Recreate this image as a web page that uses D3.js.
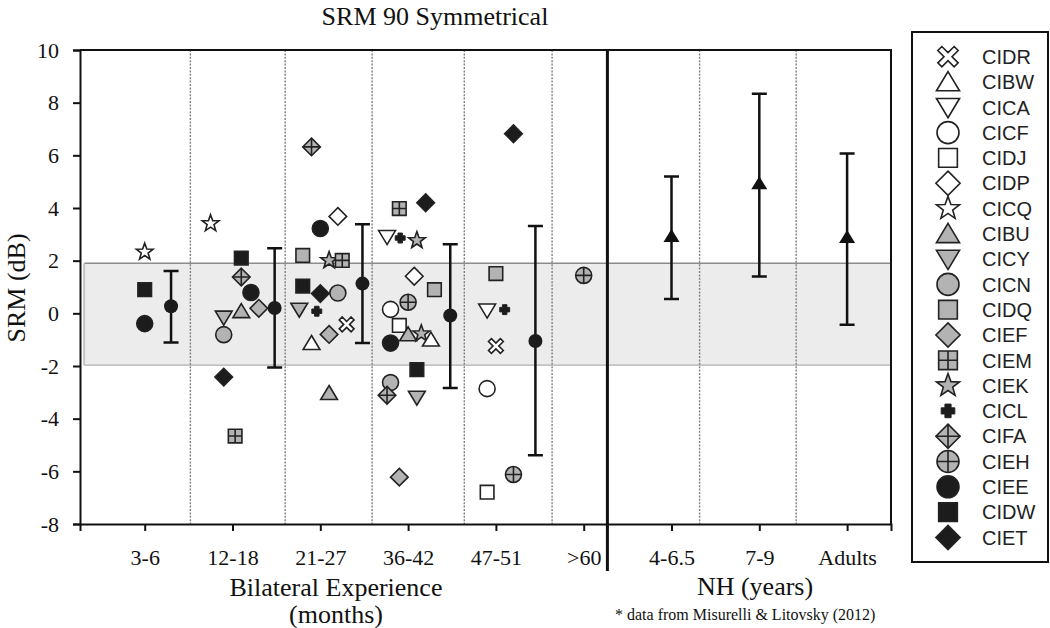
<!DOCTYPE html>
<html lang="en">
<head>
<meta charset="UTF-8">
<title>SRM 90 Symmetrical</title>
<script src="https://d3js.org/d3.v7.min.js"></script>
<style>
  body { margin: 0; background: #fff; }
  svg { display: block; }
  .serif { font-family: "Liberation Serif", "Times New Roman", serif; fill: #111; }
  .axis text { font-family: "Liberation Serif", "Times New Roman", serif; font-size: 22px; fill: #111; }
  .axis line { stroke: #111; stroke-width: 2; }
  .legend text { font-family: "Liberation Sans", Arial, sans-serif; font-size: 20px; fill: #222; }
</style>
</head>
<body>
<svg width="1050" height="628"></svg>
<script>
const groups = ["3-6", "12-18", "21-27", "36-42", "47-51", ">60", "4-6.5", "7-9", "Adults"];
const yTicks = [-8, -6, -4, -2, 0, 2, 4, 6, 8, 10];
const subjects = ["CIDR", "CIBW", "CICA", "CICF", "CIDJ", "CIDP", "CICQ", "CIBU", "CICY", "CICN",
                  "CIDQ", "CIEF", "CIEM", "CIEK", "CICL", "CIFA", "CIEH", "CIEE", "CIDW", "CIET"];

// each child: [subject, x in group units, SRM (dB)]
const ciPoints = [
  ["CICQ", 1.00, 2.33], ["CIDW", 1.00, 0.90], ["CIEE", 1.00, -0.39],

  ["CICQ", 1.75, 3.41], ["CIDW", 2.10, 2.10], ["CIFA", 2.10, 1.38], ["CIEE", 2.21, 0.79],
  ["CIEF", 2.30, 0.19], ["CIBU", 2.10, 0.08], ["CICY", 1.90, -0.16], ["CICN", 1.90, -0.81],
  ["CIET", 1.90, -2.42], ["CIEM", 2.03, -4.66],

  ["CIFA", 2.90, 6.32], ["CIDP", 3.20, 3.68], ["CIEE", 3.00, 3.22], ["CIDQ", 2.80, 2.20],
  ["CIEK", 3.10, 2.01], ["CIEM", 3.25, 2.01], ["CIDW", 2.80, 1.03], ["CIET", 3.00, 0.75],
  ["CICN", 3.20, 0.77], ["CICY", 2.76, 0.14], ["CICL", 2.96, 0.08], ["CIDR", 3.30, -0.42],
  ["CIEF", 3.10, -0.80], ["CIBW", 2.90, -1.13], ["CIBU", 3.10, -3.03],

  ["CIEM", 3.90, 3.98], ["CIET", 4.20, 4.20], ["CICA", 3.76, 2.90], ["CICL", 3.91, 2.86],
  ["CIEK", 4.10, 2.77], ["CIDP", 4.07, 1.41], ["CIDQ", 4.30, 0.90], ["CIEH", 4.00, 0.42],
  ["CICF", 3.80, 0.15], ["CIDJ", 3.90, -0.46], ["CIBU", 4.00, -0.80], ["CIEK", 4.15, -0.77],
  ["CIBW", 4.26, -1.00], ["CIEE", 3.80, -1.13], ["CIDW", 4.10, -2.14], ["CICN", 3.80, -2.63],
  ["CIFA", 3.76, -3.11], ["CICY", 4.10, -3.20], ["CIEF", 3.90, -6.22],

  ["CIET", 5.20, 6.82], ["CIDQ", 5.00, 1.51], ["CICA", 4.90, 0.11], ["CICL", 5.10, 0.14],
  ["CIDR", 5.00, -1.24], ["CICF", 4.90, -2.86], ["CIEH", 5.20, -6.12], ["CIDJ", 4.90, -6.79],

  ["CIEH", 6.00, 1.44]
];

// group summaries: [x, mean, upper, lower]
const ciSummary = [
  [1.30, 0.27, 1.61, -1.11],
  [2.48, 0.20, 2.47, -2.06],
  [3.48, 1.13, 3.38, -1.13],
  [4.48, -0.08, 2.62, -2.84],
  [5.45, -1.05, 3.32, -5.39]
];
const nhSummary = [
  [7.0, 2.90, 5.20, 0.54],
  [8.0, 4.90, 8.34, 1.40],
  [9.0, 2.86, 6.07, -0.43]
];

const normalBand = [-1.97, 1.90];
const dividers = [1.52, 2.60, 3.59, 4.64, 5.64, 7.32, 8.42];
const splitAt = 6.27;

// marker look per subject
const shapeOf = {
  CIDR: "x", CIBW: "up", CICA: "down", CICF: "circle", CIDJ: "square", CIDP: "diamond",
  CICQ: "star", CIBU: "up", CICY: "down", CICN: "circle", CIDQ: "square", CIEF: "diamond",
  CIEM: "square", CIEK: "star", CICL: "plus", CIFA: "diamond", CIEH: "circle",
  CIEE: "circle", CIDW: "square", CIET: "diamond"
};
const WHITE = "#fff", GRAY = "#b3b3b3", BLACK = "#1c1c1c";
const fillOf = s => {
  if (["CICL", "CIEE", "CIDW", "CIET"].includes(s)) return BLACK;
  if (["CIDR", "CIBW", "CICA", "CICF", "CIDJ", "CIDP", "CICQ"].includes(s)) return WHITE;
  return GRAY;
};
const crossed = ["CIEM", "CIFA", "CIEH"];

const svg = d3.select("svg");

const x = d3.scaleLinear().domain([0.263, 9.5]).range([80, 891]);
const y = d3.scaleLinear().domain([-8, 10]).range([524, 50]);

function shapePath(kind, r) {
  if (kind === "circle") return `M${r},0A${r},${r} 0 1,1 ${-r},0A${r},${r} 0 1,1 ${r},0Z`;
  if (kind === "square") { const s = r * 0.85; return `M${-s},${-s}H${s}V${s}H${-s}Z`; }
  if (kind === "diamond") { const d = r * 1.1; return `M0,${-d}L${d},0L0,${d}L${-d},0Z`; }
  if (kind === "up") return `M0,${-r * 0.95}L${r * 1.05},${r * 0.8}L${-r * 1.05},${r * 0.8}Z`;
  if (kind === "down") return `M0,${r * 0.95}L${r * 1.05},${-r * 0.8}L${-r * 1.05},${-r * 0.8}Z`;
  if (kind === "star") {
    const pts = d3.range(10).map(i => {
      const a = -Math.PI / 2 + i * Math.PI / 5, rr = i % 2 ? r * 0.45 : r * 1.1;
      return [rr * Math.cos(a), rr * Math.sin(a)];
    });
    return "M" + pts.join("L") + "Z";
  }
  if (kind === "x" || kind === "plus") {
    const w = kind === "x" ? r * 0.26 : r * 0.28, L = kind === "x" ? r * 1.05 : r * 0.62;
    let pts = [[-w,-L],[w,-L],[w,-w],[L,-w],[L,w],[w,w],[w,L],[-w,L],[-w,w],[-L,w],[-L,-w],[-w,-w]];
    if (kind === "x") {
      const c = Math.SQRT1_2;
      pts = pts.map(([a, b]) => [(a - b) * c, (a + b) * c]);
    }
    return "M" + pts.join("L") + "Z";
  }
}

function drawMarker(g, subject, r) {
  const kind = shapeOf[subject];
  g.append("path")
    .attr("d", shapePath(kind, r))
    .attr("fill", fillOf(subject))
    .attr("stroke", "#222")
    .attr("stroke-width", kind === "plus" ? 1 : 1.6)
    .attr("stroke-linejoin", "miter");
  if (crossed.includes(subject)) {
    const e = kind === "square" ? r * 0.85 : kind === "diamond" ? r * 1.1 : r;
    g.append("path")
      .attr("d", `M${-e},0H${e}M0,${-e}V${e}`)
      .attr("stroke", "#222")
      .attr("stroke-width", 1.6);
  }
}

// shaded normal range
svg.append("rect")
  .attr("x", x(0.31)).attr("y", y(normalBand[1]))
  .attr("width", x(9.5) - x(0.31)).attr("height", y(normalBand[0]) - y(normalBand[1]))
  .attr("fill", "#ececec");
svg.append("line")
  .attr("x1", x(0.31)).attr("x2", x(9.5)).attr("y1", y(normalBand[1])).attr("y2", y(normalBand[1]))
  .attr("stroke", "#8c8c8c").attr("stroke-width", 1.6);
svg.append("line")
  .attr("x1", x(0.31)).attr("x2", x(9.5)).attr("y1", y(normalBand[0])).attr("y2", y(normalBand[0]))
  .attr("stroke", "#b0b0b0").attr("stroke-width", 1.2);
svg.append("line")
  .attr("x1", x(0.31)).attr("x2", x(0.31)).attr("y1", y(normalBand[1])).attr("y2", y(normalBand[0]))
  .attr("stroke", "#c4c4c4").attr("stroke-width", 2);

// dotted group dividers
svg.selectAll(".divider")
  .data(dividers)
  .join("line")
  .attr("class", "divider")
  .attr("x1", d => x(d)).attr("x2", d => x(d))
  .attr("y1", y(10)).attr("y2", y(-8))
  .attr("stroke", "#808080").attr("stroke-width", 1.4).attr("stroke-dasharray", "2,1.4");

// frame
svg.append("path")
  .attr("d", `M${x(0.263)},${y(10)}H${x(9.5)}V${y(-8)}`)
  .attr("fill", "none").attr("stroke", "#111").attr("stroke-width", 2);

// axes (plain hyphen for negatives, as in the original)
const yAxis = svg.append("g").attr("class", "axis")
  .attr("transform", `translate(${x(0.263)},0)`)
  .call(d3.axisLeft(y).tickValues(yTicks).tickFormat(d => String(d)).tickSize(7).tickPadding(14));
yAxis.select(".domain").attr("stroke", "#111").attr("stroke-width", 2);

const xAxis = svg.append("g").attr("class", "axis")
  .attr("transform", `translate(0,${y(-8)})`)
  .call(d3.axisBottom(x).tickValues(d3.range(1, 10)).tickFormat(i => groups[i - 1]).tickSize(7).tickPadding(18));
xAxis.select(".domain").attr("stroke", "#111").attr("stroke-width", 2);

// CI / NH split
svg.append("line")
  .attr("x1", x(splitAt)).attr("x2", x(splitAt))
  .attr("y1", y(10) - 1).attr("y2", 571)
  .attr("stroke", "#111").attr("stroke-width", 3);

// individual children
svg.selectAll(".pt")
  .data(ciPoints)
  .join("g")
  .attr("class", "pt")
  .attr("transform", d => `translate(${x(d[1])},${y(d[2])})`)
  .each(function(d) { drawMarker(d3.select(this), d[0], 8); });

// error bars
function errorBars(data, mark) {
  const g = svg.append("g");
  data.forEach(([cx, m, hi, lo]) => {
    const px = x(cx);
    g.append("path")
      .attr("d", `M${px},${y(hi)}V${y(lo)}M${px - 7.5},${y(hi)}H${px + 7.5}M${px - 7.5},${y(lo)}H${px + 7.5}`)
      .attr("stroke", "#111").attr("stroke-width", 2.5).attr("fill", "none");
    if (mark === "dot") {
      g.append("circle").attr("cx", px).attr("cy", y(m)).attr("r", 7).attr("fill", "#1c1c1c");
    } else {
      g.append("path")
        .attr("transform", `translate(${px},${y(m)})`)
        .attr("d", "M0,-8L8,5L-8,5Z")
        .attr("fill", "#111");
    }
  });
}
errorBars(ciSummary, "dot");
errorBars(nhSummary, "tri");

// titles
svg.append("text").attr("class", "serif")
  .attr("x", 435).attr("y", 25).attr("text-anchor", "middle")
  .style("font-size", "26px").text("SRM 90 Symmetrical");
svg.append("text").attr("class", "serif")
  .attr("transform", "translate(25,288) rotate(-90)").attr("text-anchor", "middle")
  .style("font-size", "26px").text("SRM (dB)");
svg.append("text").attr("class", "serif")
  .attr("x", 336).attr("y", 596).attr("text-anchor", "middle")
  .style("font-size", "26px").text("Bilateral Experience");
svg.append("text").attr("class", "serif")
  .attr("x", 336).attr("y", 623).attr("text-anchor", "middle")
  .style("font-size", "26px").text("(months)");
svg.append("text").attr("class", "serif")
  .attr("x", 755).attr("y", 595).attr("text-anchor", "middle")
  .style("font-size", "26px").text("NH (years)");
svg.append("text").attr("class", "serif")
  .attr("x", 615).attr("y", 620)
  .style("font-size", "16px").text("* data from Misurelli & Litovsky (2012)");

// legend
const legend = svg.append("g").attr("class", "legend");
legend.append("rect")
  .attr("x", 912).attr("y", 32).attr("width", 136).attr("height", 530)
  .attr("fill", "#fff").attr("stroke", "#111").attr("stroke-width", 2);
const rows = legend.selectAll(".row")
  .data(subjects)
  .join("g")
  .attr("class", "row")
  .attr("transform", (d, i) => `translate(948,${56.7 + i * 25.3})`);
rows.each(function(d) { drawMarker(d3.select(this), d, 11); });
rows.append("text").attr("x", 34).attr("dy", "0.36em").text(d => d);
</script>
</body>
</html>
